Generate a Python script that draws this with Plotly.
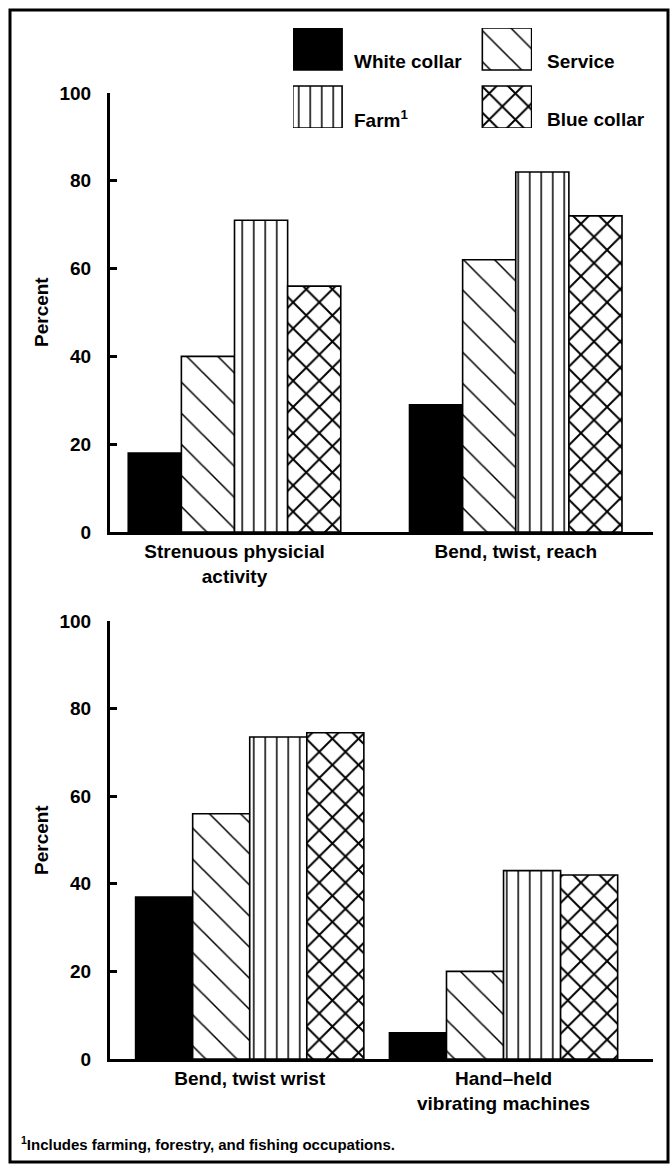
import plotly.graph_objects as go

# ---------------- data ----------------
categories_top = ["Strenuous physicial<br>activity", "Bend, twist, reach"]
categories_bottom = ["Bend, twist wrist", "Hand\u2013held<br>vibrating machines"]
occupations = ["White collar", "Service", "Farm", "Blue collar"]
legend_labels = ["White collar", "Service", "Farm<sup>1</sup>", "Blue collar"]

white_collar_top = [18, 29]
service_top = [40, 62]
farm_top = [71, 82]
blue_collar_top = [56, 72]

white_collar_bottom = [37, 6]
service_bottom = [56, 20]
farm_bottom = [73.5, 43]
blue_collar_bottom = [74.5, 42]

y_ticks = [0, 20, 40, 60, 80, 100]
y_title = "Percent"
footnote = "<sup>1</sup>Includes farming, forestry, and fishing occupations."

# ---------------- layout helpers ----------------
W, H = 672, 1171


def px_x(x):
    return x / W


def px_y(y):
    return 1 - y / H


FONT = "Liberation Sans, Arial, sans-serif"

styles = {
    "White collar": dict(color="black", pattern=None),
    "Service": dict(color="white", pattern=dict(shape="\\", size=22, solidity=0.07)),
    "Farm": dict(color="white", pattern=dict(shape="|", size=11.5, solidity=0.13)),
    "Blue collar": dict(color="white", pattern=dict(shape="x", size=18.5, solidity=0.2)),
}


def marker_for(occ):
    st = styles[occ]
    m = dict(color=st["color"], line=dict(color="black", width=1.6))
    if st["pattern"] is not None:
        m["pattern"] = dict(fgcolor="black", bgcolor="white", fillmode="replace", **st["pattern"])
    return m


fig = go.Figure()

top_series = [white_collar_top, service_top, farm_top, blue_collar_top]
bottom_series = [white_collar_bottom, service_bottom, farm_bottom, blue_collar_bottom]

top_w = 0.1889
bot_w = 0.2248
for i, occ in enumerate(occupations):
    fig.add_trace(go.Bar(
        x=categories_top, y=top_series[i], name=occ, marker=marker_for(occ),
        width=top_w, offset=-2 * top_w + i * top_w,
        xaxis="x", yaxis="y", showlegend=False, hoverinfo="x+y+name"))
    fig.add_trace(go.Bar(
        x=categories_bottom, y=bottom_series[i], name=occ, marker=marker_for(occ),
        width=bot_w, offset=-2 * bot_w + i * bot_w,
        xaxis="x2", yaxis="y2", showlegend=False, hoverinfo="x+y+name"))

# legend swatches (one key box per occupation, on a hidden axis)
for i, occ in enumerate(occupations):
    fig.add_trace(go.Bar(
        x=[i % 2], y=[42], base=[58 if i < 2 else 0], width=0.26,
        marker=marker_for(occ), xaxis="x3", yaxis="y3",
        showlegend=False, hoverinfo="skip"))

axis_common = dict(showgrid=False, zeroline=False, showline=True, linecolor="black",
                   linewidth=3, automargin=False)

fig.update_layout(
    template="none",
    width=W, height=H, margin=dict(l=0, r=0, t=0, b=0, pad=0, autoexpand=False),
    paper_bgcolor="white", plot_bgcolor="white",
    font=dict(family=FONT, size=19, color="black", weight="bold"),
    barmode="overlay",
    xaxis=dict(domain=[px_x(110), px_x(653)], range=[-0.4427, 1.488], type="category",
               ticks="", ticklabelstandoff=0, anchor="y", **axis_common),
    yaxis=dict(domain=[px_y(532), px_y(93)], range=[0, 100], tickvals=y_ticks,
               ticks="inside", ticklen=7, tickwidth=3, tickcolor="black",
               ticklabelstandoff=12, anchor="x", **axis_common),
    xaxis2=dict(domain=[px_x(110), px_x(653)], range=[-0.5505, 1.5888], type="category",
                ticks="", ticklabelstandoff=0, anchor="y2", **axis_common),
    yaxis2=dict(domain=[px_y(1059), px_y(621)], range=[0, 100], tickvals=y_ticks,
                ticks="inside", ticklen=7, tickwidth=3, tickcolor="black",
                ticklabelstandoff=12, anchor="x2", **axis_common),
    xaxis3=dict(domain=[px_x(293), px_x(532)], range=[-0.129, 1.132], visible=False,
                anchor="y3", automargin=False),
    yaxis3=dict(domain=[px_y(128), px_y(28)], range=[0, 100], visible=False,
                anchor="x3", automargin=False),
)

annotations = []
# y-axis titles
for yc in (312, 840):
    annotations.append(dict(text=y_title, x=px_x(41), y=px_y(yc), xref="paper", yref="paper",
                            showarrow=False, textangle=-90, xanchor="center", yanchor="middle",
                            font=dict(size=19)))
# legend labels
leg_pos = [(352, 62), (545, 62), (352, 119), (545, 119)]
for lab, (lx, ly) in zip(legend_labels, leg_pos):
    annotations.append(dict(text=lab, x=px_x(lx), y=px_y(ly), xref="paper", yref="paper",
                            showarrow=False, xanchor="left", yanchor="middle", font=dict(size=19)))
# footnote
annotations.append(dict(text=footnote, x=px_x(19), y=px_y(1143), xref="paper", yref="paper",
                        showarrow=False, xanchor="left", yanchor="middle", font=dict(size=15)))
fig.update_layout(annotations=annotations)

# outer frame
fig.add_shape(type="rect", xref="paper", yref="paper",
              x0=px_x(10), x1=px_x(668), y0=px_y(1162), y1=px_y(10),
              line=dict(color="black", width=3), fillcolor="rgba(0,0,0,0)", layer="above")

fig.write_html(
    "out.html",
    config={"displayModeBar": False},
    post_script="document.body.style.margin='0';document.body.style.padding='0';"
                "document.body.style.overflow='hidden';",
)
